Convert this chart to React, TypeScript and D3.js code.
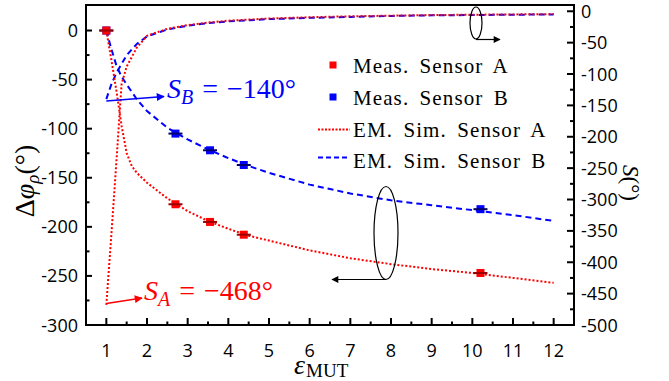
import React from 'react';
import * as d3 from 'd3';

const W = 669;
const H = 381;

// Measured data
const epsMeas = [1, 2.7, 3.55, 4.38, 10.2];
const measA = [0, -177, -195, -208, -247];
const measB = [0, -105, -122, -137, -182];

// EM simulation: phase shift (left axis)
const epsPhaseA = [1, 1.125, 1.25, 1.375, 1.5, 1.625, 1.75, 2, 2.5, 3, 3.5, 4, 4.5, 5, 6, 7, 8, 9, 10, 11, 12];
const simPhaseA = [0, -30, -62, -97, -125, -138, -145, -155, -171, -184, -194, -202, -209, -214, -224, -232, -238, -243, -247, -252, -257];

const epsPhaseB = [1, 1.125, 1.25, 1.375, 1.5, 1.75, 2, 2.5, 3, 3.5, 4, 4.5, 5, 6, 7, 8, 9, 10, 11, 12];
const simPhaseB = [0, -19, -36, -47, -55, -70, -82, -99, -111, -121, -130, -138, -145, -157, -166, -173, -178, -183, -188, -194];

// EM simulation: sensitivity S (right axis)
const epsSensA = [1, 1.125, 1.25, 1.375, 1.5, 1.75, 2, 2.5, 3, 3.5, 4, 5, 6, 7, 8, 9, 10, 11, 12];
const simSensA = [-468, -355, -237, -116, -88, -58, -39, -28, -22, -18, -15, -11.5, -9.5, -8, -7, -6, -5.5, -5, -4.5];

const epsSensB = [1, 1.125, 1.25, 1.5, 1.75, 2, 2.5, 3, 3.5, 4, 5, 6, 7, 8, 9, 10, 11, 12];
const simSensB = [-140, -116, -98, -70, -52, -40, -29, -23, -19, -16, -12.5, -10.5, -9, -7.5, -6.5, -6, -5.5, -5];

const xTicks = [1, 2, 3, 4, 5, 6, 7, 8, 9, 10, 11, 12];
const leftTicks = [0, -50, -100, -150, -200, -250, -300];
const rightTicks = [0, -50, -100, -150, -200, -250, -300, -350, -400, -450, -500];

const RED = '#ff0000';
const BLUE = '#0000ff';
const RED_DARK = '#9a0000';
const BLUE_DARK = '#00006a';

const L = 86, R = 574, T = 5, B = 325;

export default function App() {
  const x = d3.scaleLinear().domain([0.5, 12.5]).range([L, R]);
  const yL = d3.scaleLinear().domain([-300, 26]).range([B, T]);
  const yR = d3.scaleLinear().domain([-500, 10]).range([B, T]);

  const lineL = d3.line<[number, number]>().x(d => x(d[0])).y(d => yL(d[1]));
  const lineR = d3.line<[number, number]>().x(d => x(d[0])).y(d => yR(d[1]));

  const zip = (a: number[], b: number[]) => a.map((v, i) => [v, b[i]] as [number, number]);

  const xMinor = xTicks.slice(0, -1).map(v => v + 0.5);
  const lMinor = leftTicks.slice(0, -1).map(v => v - 25);
  const rMinor = rightTicks.slice(0, -1).map(v => v - 25);

  const tickFont = { fontFamily: '"Open Sans", sans-serif', fontSize: 18 };
  const serif = '"Liberation Serif", "Times New Roman", serif';

  const marker = (sq: number, col: string, dark: string, xv: number, yv: number, key: string) => (
    <g key={key}>
      <rect x={x(xv) - sq / 2} y={yL(yv) - sq / 2} width={sq} height={sq} fill={col} />
      <line x1={x(xv) - 7} x2={x(xv) + 7} y1={yL(yv)} y2={yL(yv)} stroke={dark} strokeWidth={2} />
    </g>
  );

  return (
    <svg width={W} height={H} style={{ position: 'absolute', left: 0, top: 0, background: '#fff' }}>
      <defs>
        <marker id="arrK" viewBox="0 0 10 10" refX="9" refY="5" markerWidth="10" markerHeight="7" markerUnits="userSpaceOnUse" orient="auto">
          <path d="M0,0 L10,5 L0,10 Z" fill="#000" />
        </marker>
        <marker id="arrB" viewBox="0 0 10 10" refX="9" refY="5" markerWidth="11" markerHeight="8" markerUnits="userSpaceOnUse" orient="auto">
          <path d="M0,0 L10,5 L0,10 Z" fill={BLUE} />
        </marker>
        <marker id="arrR" viewBox="0 0 10 10" refX="9" refY="5" markerWidth="11" markerHeight="8" markerUnits="userSpaceOnUse" orient="auto">
          <path d="M0,0 L10,5 L0,10 Z" fill={RED} />
        </marker>
      </defs>

      {/* ticks left */}
      {leftTicks.map(v => (
        <g key={'lt' + v}>
          <line x1={L} x2={L + 6} y1={yL(v)} y2={yL(v)} stroke="#000" strokeWidth={2} />
          <text x={L - 8} y={yL(v) + 6.5} textAnchor="end" {...tickFont}>{v}</text>
        </g>
      ))}
      {lMinor.map(v => (
        <line key={'lm' + v} x1={L} x2={L + 3.5} y1={yL(v)} y2={yL(v)} stroke="#000" strokeWidth={2} />
      ))}
      {/* ticks right */}
      {rightTicks.map(v => (
        <g key={'rt' + v}>
          <line x1={R} x2={R - 7} y1={yR(v)} y2={yR(v)} stroke="#000" strokeWidth={2} />
          <text x={R + 7} y={yR(v) + 6.5} textAnchor="start" {...tickFont}>{v}</text>
        </g>
      ))}
      {rMinor.map(v => (
        <line key={'rm' + v} x1={R} x2={R - 4} y1={yR(v)} y2={yR(v)} stroke="#000" strokeWidth={2} />
      ))}
      {/* ticks bottom */}
      {xTicks.map(v => (
        <g key={'xt' + v}>
          <line x1={x(v)} x2={x(v)} y1={B} y2={B - 7} stroke="#000" strokeWidth={2} />
          <text x={x(v)} y={357} textAnchor="middle" {...tickFont}>{v}</text>
        </g>
      ))}
      {xMinor.map(v => (
        <line key={'xm' + v} x1={x(v)} x2={x(v)} y1={B} y2={B - 3.5} stroke="#000" strokeWidth={2} />
      ))}

      {/* simulation curves */}
      <path d={lineR(zip(epsSensB, simSensB)) || ''} fill="none" stroke={BLUE} strokeWidth={2} strokeDasharray="6 4" />
      <path d={lineL(zip(epsPhaseB, simPhaseB)) || ''} fill="none" stroke={BLUE} strokeWidth={2} strokeDasharray="6 4" />
      <path d={lineR(zip(epsSensA, simSensA)) || ''} fill="none" stroke={RED} strokeWidth={2} strokeDasharray="2 2" />
      <path d={lineL(zip(epsPhaseA, simPhaseA)) || ''} fill="none" stroke={RED} strokeWidth={2} strokeDasharray="2 2" />

      {/* measured */}
      {epsMeas.map((e, i) => marker(8, BLUE, BLUE_DARK, e, measB[i], 'mb' + i))}
      {epsMeas.map((e, i) => marker(8, RED, RED_DARK, e, measA[i], 'ma' + i))}

      {/* frame */}
      <rect x={L} y={T} width={R - L} height={B - T} fill="none" stroke="#000" strokeWidth={2} />

      {/* ellipses and arrows */}
      <ellipse cx={476} cy={23} rx={6} ry={16} fill="none" stroke="#000" strokeWidth={1.2} />
      <line x1={476} y1={39.5} x2={500} y2={39.5} stroke="#000" strokeWidth={1.2} markerEnd="url(#arrK)" />
      <ellipse cx={386} cy={233} rx={12} ry={46.5} fill="none" stroke="#000" strokeWidth={1.2} />
      <line x1={386} y1={279.5} x2={332} y2={279.5} stroke="#000" strokeWidth={1.2} markerEnd="url(#arrK)" />

      {/* annotations */}
      <line x1={x(1)} y1={101} x2={164} y2={96.5} stroke={BLUE} strokeWidth={1.4} markerEnd="url(#arrB)" />
      <text x={167} y={98} fill={BLUE} fontFamily={serif} fontSize={28}>
        <tspan fontStyle="italic">S</tspan>
        <tspan fontStyle="italic" fontSize={20} dy={6}>B</tspan>
        <tspan dy={-6} dx={9}>=</tspan>
        <tspan dx={9}>−140°</tspan>
      </text>
      <line x1={x(1)} y1={303.5} x2={142} y2={298} stroke={RED} strokeWidth={1.4} markerEnd="url(#arrR)" />
      <text x={144} y={300} fill={RED} fontFamily={serif} fontSize={28}>
        <tspan fontStyle="italic">S</tspan>
        <tspan fontStyle="italic" fontSize={20} dy={6}>A</tspan>
        <tspan dy={-6} dx={9}>=</tspan>
        <tspan dx={9}>−468°</tspan>
      </text>

      {/* legend */}
      <g fontFamily={serif} fontSize={21} letterSpacing={1.1} wordSpacing={4}>
        <rect x={329.5} y={61.5} width={7} height={7} fill={RED} />
        <text x={353} y={73.3}>Meas. Sensor A</text>
        <rect x={329.5} y={93.5} width={7} height={7} fill={BLUE} />
        <text x={353} y={105}>Meas. Sensor B</text>
        <line x1={318} x2={350} y1={129.5} y2={129.5} stroke={RED} strokeWidth={2} strokeDasharray="2 1.5" />
        <text x={353} y={136.7}>EM. Sim. Sensor A</text>
        <line x1={318} x2={350} y1={157.5} y2={157.5} stroke={BLUE} strokeWidth={2} strokeDasharray="5 3" />
        <text x={353} y={168.3}>EM. Sim. Sensor B</text>
      </g>

      {/* axis labels */}
      <text transform="translate(34,181) rotate(-90)" textAnchor="middle" fontFamily={serif} fontSize={28}>
        <tspan>Δ</tspan>
        <tspan fontStyle="italic">φ</tspan>
        <tspan fontStyle="italic" fontSize={19} dy={5}>ρ</tspan>
        <tspan dy={-5}>(°)</tspan>
      </text>
      <text transform="translate(623,183) rotate(90)" textAnchor="middle" fontFamily={serif} fontSize={23}>
        <tspan fontStyle="italic">S</tspan>
        <tspan>(°)</tspan>
      </text>
      <text x={294} y={374} fontFamily={serif} fontSize={28}>
        <tspan fontStyle="italic">ε</tspan>
        <tspan fontSize={19} dy={3} dx={1}>MUT</tspan>
      </text>
    </svg>
  );
}
